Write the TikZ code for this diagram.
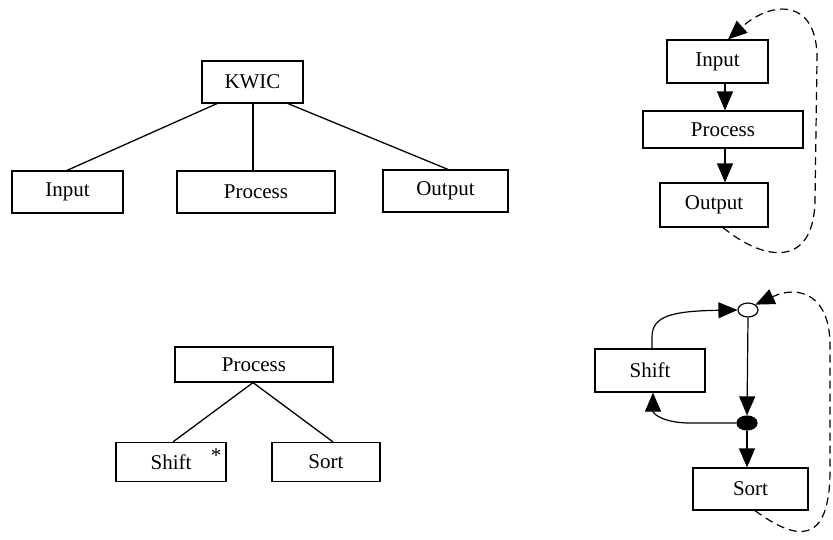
\documentclass[tikz,border=0pt]{standalone}
\usepackage{fontspec}
\setmainfont{Liberation Serif}
\usetikzlibrary{arrows.meta,shapes.geometric}
\tikzset{
  box/.style={draw,line width=1.2pt,rectangle,inner sep=0pt,font=\fontsize{21}{24}\selectfont},
  link/.style={line width=1.3pt},
  arr/.style={line width=1.2pt,-{Triangle[length=19pt,width=16pt]}},
  dsh/.style={line width=1.4pt,dash pattern=on 8pt off 5pt},
  junction/.style={draw,line width=1.2pt,ellipse,minimum width=20pt,minimum height=14pt,inner sep=0pt},
}
\begin{document}
\begin{tikzpicture}[x=1pt,y=-1pt]
\useasboundingbox (0,0) rectangle (833,539);
% top-left tree
\node[box,minimum width=101pt,minimum height=42pt] (kwic) at (252.5,82) {KWIC};
\node[box,minimum width=111pt,minimum height=42pt] (in1) at (67.5,192) {Input};
\node[box,minimum width=158pt,minimum height=42pt] (pr1) at (256,192) {Process};
\node[box,minimum width=125pt,minimum height=42pt] (out1) at (445.5,191) {Output};
\draw[link] (kwic.south -| 217,0) -- (in1.north -| 67,0);
\draw[link] (kwic.south -| 253,0) -- (pr1.north -| 253,0);
\draw[link] (kwic.south -| 288,0) -- (out1.north -| 448,0);
% top-right flow
\node[box,minimum width=101pt,minimum height=43pt] (in2) at (717.5,61.5) {Input};
\node[box,minimum width=160pt,minimum height=37pt] (pr2) at (723,129.5) {Process};
\node[box,minimum width=108pt,minimum height=44pt] (out2) at (714,205) {Output};
\draw[arr] (in2.south -| 725,0) -- (pr2.north -| 725,0);
\draw[arr] (pr2.south -| 725,0) -- (out2.north -| 725,0);
\draw[dsh,arr] (out2.south -| 723,0) .. controls (765,262) and (814,268) .. (815,200)
  -- (817,60) .. controls (818,-2) and (772,0) .. (in2.north -| 728,0);
% bottom-left tree
\node[box,minimum width=158pt,minimum height=35pt] (pr3) at (254,364.5) {Process};
\node[box,minimum width=110pt,minimum height=39pt] (shift3) at (171,462) {Shift};
\node[box,minimum width=108pt,minimum height=39pt] (sort3) at (326,462) {Sort};
\node[font=\fontsize{21}{24}\selectfont,inner sep=0pt] (star) at (216,456) {*};
\draw[link] (pr3.south -| 253,0) -- (shift3.north -| 173,0);
\draw[link] (pr3.south -| 253,0) -- (sort3.north -| 333,0);
% bottom-right flow
\node[box,minimum width=110pt,minimum height=43pt] (shift4) at (650,370.5) {Shift};
\node[junction] (o1) at (748,310) {};
\node[junction,fill=black] (f1) at (747,423) {};
\node[box,minimum width=115pt,minimum height=42pt] (sort4) at (750.5,489) {Sort};
\draw[arr] (shift4.north -| 652,0) -- (652,337) .. controls (652,316) and (672,311) .. (o1.west);
\draw[arr] (o1.south) -- (f1.north);
\draw[arr] (f1.west) -- (690,423) .. controls (664,423) and (653,414) .. (shift4.south -| 653,0);
\draw[arr] (f1.south) -- (sort4.north -| f1.south);
\draw[dsh,arr] (sort4.south -| 755,0) .. controls (795,540) and (830,548) .. (830,470)
  -- (830,345) .. controls (830,296) and (800,284) .. (o1.north east);
\end{tikzpicture}
\end{document}
